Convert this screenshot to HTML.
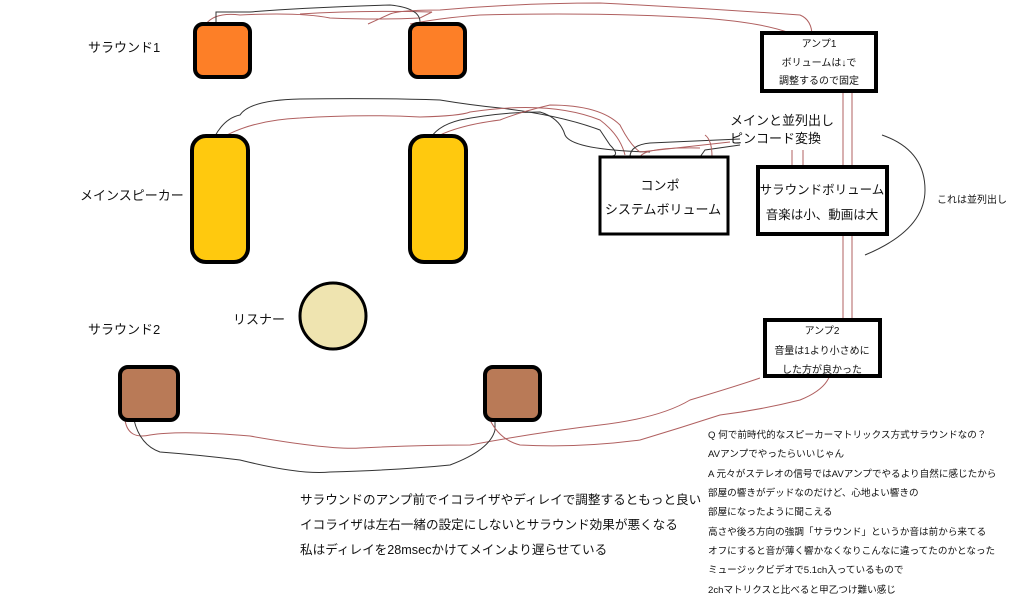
<!DOCTYPE html>
<html><head><meta charset="utf-8"><style>
body{margin:0;background:#fff;}
svg{display:block;font-family:"Liberation Sans","Noto Sans CJK JP",sans-serif;}
</style></head><body>
<svg width="1024" height="611" viewBox="0 0 1024 611">
<g fill="none" stroke-width="1">
<path d="M206 24 Q215 12 240 15 Q300 12 330 18 Q380 20 420 18 L432 12 Q360 10 300 14" stroke="#b06060"/>
<path d="M216 24 L216 12 L250 12 Q300 8 360 6 L390 5 Q420 8 420 22" stroke="#333"/>
<path d="M368 24 L390 14 Q400 10 440 10 Q520 3 600 3 Q700 8 800 15 Q812 20 812 36" stroke="#b06060"/>
<path d="M410 24 Q440 18 480 15 Q600 12 700 18 Q760 22 790 33" stroke="#b06060"/>
<path d="M215 136 Q225 118 240 115 Q250 100 300 99 Q380 98 440 100 Q470 105 500 108 Q560 115 600 130 L610 145 Q620 155 612 156" stroke="#333"/>
<path d="M225 136 Q255 120 300 118 Q360 114 420 117 Q460 116 470 112 Q550 100 600 120 Q620 135 625 155" stroke="#b06060"/>
<path d="M432 136 Q440 125 460 120 Q500 112 540 112 Q560 118 565 135 Q572 150 650 152" stroke="#333"/>
<path d="M438 136 Q460 125 500 120 Q520 112 550 105 Q600 105 620 125 Q630 145 640 152 L730 142" stroke="#b06060"/>
<path d="M630 157 Q630 145 650 143 L740 139" stroke="#333"/>
<path d="M640 157 Q645 147 700 148" stroke="#b06060"/>
<path d="M700 157 L705 150 L740 145" stroke="#333"/>
<path d="M712 157 Q712 140 705 135" stroke="#b06060"/>
<path d="M843 91 V320 M852 91 V320 M792 150 V167 M803 150 V167" stroke="#b06060"/>
<path d="M882 135 Q925 150 925 190 Q925 230 865 255" stroke="#333"/>
<path d="M125 420 Q128 440 150 435 Q180 430 250 436 Q330 450 360 448 Q420 445 470 445 Q540 432 600 425 Q660 418 690 400 Q740 385 760 378" stroke="#b06060"/>
<path d="M134 420 Q140 445 160 452 Q200 455 240 460 Q300 475 330 472 Q400 470 450 465 Q490 450 495 430 L495 412" stroke="#333"/>
<path d="M490 420 Q500 440 520 445 Q580 448 640 440 Q680 428 720 415 Q760 410 800 400 Q825 390 830 375" stroke="#b06060"/>
</g>
<g stroke="#000" stroke-width="4">
<rect x="195" y="24" width="55" height="53" rx="8" fill="#fd7f27"/>
<rect x="410" y="24" width="55" height="53" rx="8" fill="#fd7f27"/>
<rect x="192" y="136" width="56" height="126" rx="14" fill="#ffc90e"/>
<rect x="410" y="136" width="56" height="126" rx="14" fill="#ffc90e"/>
<rect x="120" y="367" width="58" height="53" rx="8" fill="#b97a57"/>
<rect x="485" y="367" width="55" height="53" rx="8" fill="#b97a57"/>
<circle cx="333" cy="316" r="33" fill="#efe4b0" stroke-width="3"/>
<rect x="762" y="33" width="114" height="58" fill="#fff"/>
<rect x="600" y="157" width="128" height="77" fill="#fff" stroke-width="3"/>
<rect x="758" y="167" width="129" height="67" fill="#fff"/>
<rect x="765" y="320" width="115" height="56" fill="#fff"/>
</g>
<g fill="#111" font-size="13">
<text x="88" y="52">サラウンド1</text>
<text x="80" y="200">メインスピーカー</text>
<text x="233" y="324">リスナー</text>
<text x="88" y="334">サラウンド2</text>
<text x="730" y="125">メインと並列出し</text>
<text x="730" y="143">ピンコード変換</text>
<text x="660" y="190" text-anchor="middle">コンポ</text>
<text x="663" y="214" text-anchor="middle">システムボリューム</text>
<text x="822" y="194" text-anchor="middle" font-size="12.5">サラウンドボリューム</text>
<text x="822" y="219" text-anchor="middle" font-size="12.5">音楽は小、動画は大</text>
<text x="300" y="504" font-size="12.6">サラウンドのアンプ前でイコライザやディレイで調整するともっと良い</text>
<text x="300" y="529" font-size="12.6">イコライザは左右一緒の設定にしないとサラウンド効果が悪くなる</text>
<text x="300" y="554" font-size="12.6">私はディレイを28msecかけてメインより遅らせている</text>
</g>
<g fill="#111" font-size="10">
<text x="819" y="47" text-anchor="middle">アンプ1</text>
<text x="819" y="66" text-anchor="middle">ボリュームは↓で</text>
<text x="819" y="84" text-anchor="middle">調整するので固定</text>
<text x="822" y="334" text-anchor="middle">アンプ2</text>
<text x="822" y="354" text-anchor="middle">音量は1より小さめに</text>
<text x="822" y="373" text-anchor="middle">した方が良かった</text>
<text x="937" y="203">これは並列出し</text>
</g>
<g fill="#111" font-size="9.6">
<text x="708" y="438">Q 何で前時代的なスピーカーマトリックス方式サラウンドなの？</text>
<text x="708" y="457">AVアンプでやったらいいじゃん</text>
<text x="708" y="477">A 元々がステレオの信号ではAVアンプでやるより自然に感じたから</text>
<text x="708" y="496">部屋の響きがデッドなのだけど、心地よい響きの</text>
<text x="708" y="515">部屋になったように聞こえる</text>
<text x="708" y="535">高さや後ろ方向の強調「サラウンド」というか音は前から来てる</text>
<text x="708" y="554">オフにすると音が薄く響かなくなりこんなに違ってたのかとなった</text>
<text x="708" y="573">ミュージックビデオで5.1ch入っているもので</text>
<text x="708" y="593">2chマトリクスと比べると甲乙つけ難い感じ</text>
</g>
</svg>
</body></html>
